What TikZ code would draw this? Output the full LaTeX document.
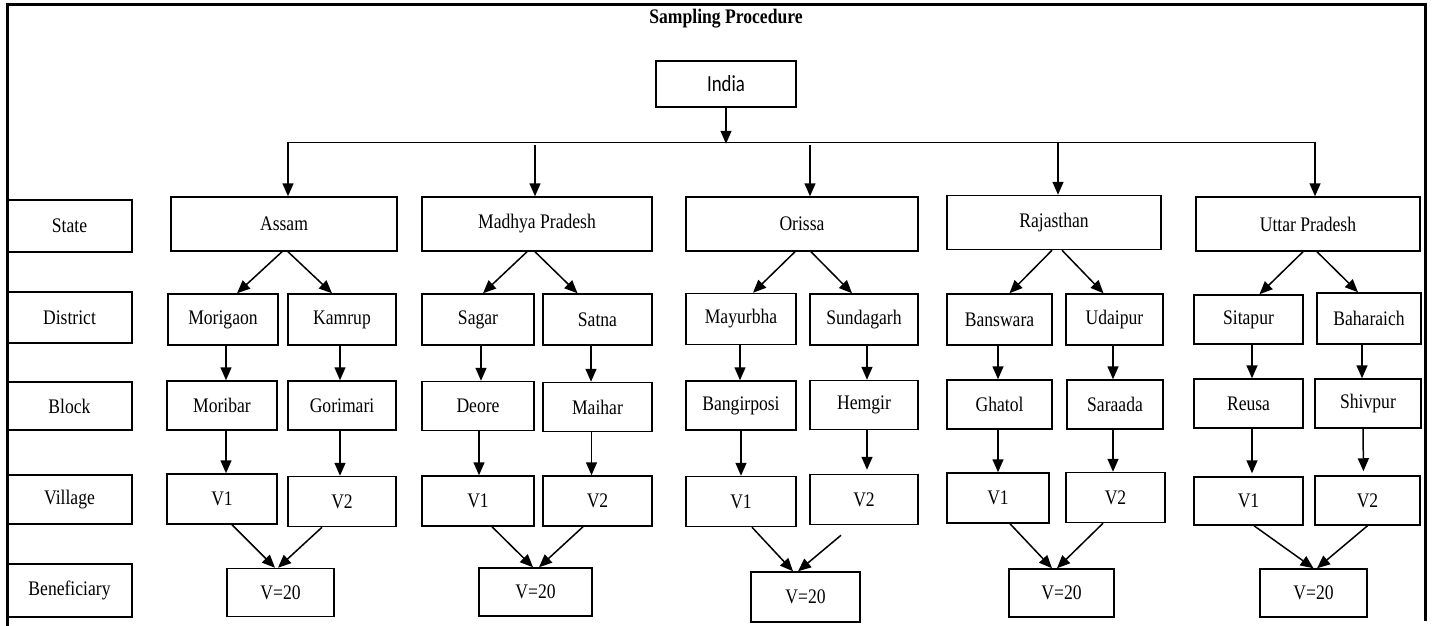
\documentclass[tikz,border=0pt]{standalone}
\usepackage{fontspec}
\setmainfont{Liberation Serif}[FakeStretch=0.85]
\newfontfamily\indiafont{Carlito}[FakeStretch=0.82]
\usepackage{tikz}
\usetikzlibrary{arrows.meta,calc}

\begin{document}
\begin{tikzpicture} %Muestreo
  [
    x=1pt, y=-1pt,
    % Estilos de las cajas y flechas para no repetir codigo
    box/.style={rectangle, draw, line width=1.5pt, inner sep=0pt, font=\fontsize{20.7}{24}\selectfont},
    labelbox/.style={box, minimum width=125pt},
    statebox/.style={box, minimum height=54pt},
    distbox/.style={box, minimum height=51pt},
    blockbox/.style={box, minimum height=49pt},
    villbox/.style={box, minimum height=50pt},
    benbox/.style={box, minimum height=48pt},
    arr/.style={-{Triangle[length=13pt,width=11pt]}, line width=1.5pt}
  ]
  \useasboundingbox (0,0) rectangle (1432,626);
  \draw[line width=3pt] (7,626) -- (7,5) -- (1425,5) -- (1425,621);

  \node[font=\fontsize{20.7}{24}\selectfont\bfseries] (title) at (726,19) {Sampling Procedure};
  \node[box, font=\fontsize{23}{27}\indiafont, minimum width=140pt, minimum height=46pt] (india) at (726,84) {India};

  % Etiquetas de la izquierda
  \node[labelbox, minimum height=52pt] (lstate) at (69.5,226) {State};
  \node[labelbox, minimum height=51pt] (ldistrict) at (69.5,317.5) {District};
  \node[labelbox, minimum height=48pt] (lblock) at (69.5,406) {Block};
  \node[labelbox, minimum height=49pt] (lvillage) at (69.5,499.5) {Village};
  \node[labelbox, minimum height=53pt] (lben) at (69.5,590.5) {Beneficiary};

  % Assam
  \node[statebox, minimum width=226pt] (assam) at (284,224) {Assam};
  \node[distbox, minimum width=110pt] (morigaon) at (223,319.5) {Morigaon};
  \node[distbox, minimum width=108pt] (kamrup) at (342,319.5) {Kamrup};
  \node[blockbox, minimum width=110pt] (moribar) at (222,405.5) {Moribar};
  \node[blockbox, minimum width=108pt] (gorimari) at (342,405.5) {Gorimari};
  \node[villbox, minimum width=110pt] (av1) at (222,499) {V1};
  \node[villbox, minimum width=108pt] (av2) at (342,501.5) {V2};
  \node[benbox, minimum width=107pt] (aben) at (280.5,592.5) {V=20};

  % Madhya Pradesh
  \node[statebox, minimum width=230pt] (mp) at (537,224) {Madhya Pradesh};
  \node[distbox, minimum width=112pt] (sagar) at (478,319.5) {Sagar};
  \node[distbox, minimum width=109pt] (satna) at (597.5,319.5) {Satna};
  \node[blockbox, minimum width=112pt] (deore) at (478,406) {Deore};
  \node[blockbox, minimum width=109pt] (maihar) at (597.5,407) {Maihar};
  \node[villbox, minimum width=112pt] (mv1) at (478,501) {V1};
  \node[villbox, minimum width=109pt] (mv2) at (597.5,501) {V2};
  \node[benbox, minimum width=113pt] (mben) at (535.5,592) {V=20};

  % Orissa
  \node[statebox, minimum width=232pt] (orissa) at (802,224) {Orissa};
  \node[distbox, minimum width=110pt] (mayurbha) at (741,319) {Mayurbha};
  \node[distbox, minimum width=108pt] (sundagarh) at (864,319.5) {Sundagarh};
  \node[blockbox, minimum width=110pt] (bangirposi) at (741,405.5) {Bangirposi};
  \node[blockbox, minimum width=108pt] (hemgir) at (864,405) {Hemgir};
  \node[villbox, minimum width=110pt] (ov1) at (741,501.5) {V1};
  \node[villbox, minimum width=108pt] (ov2) at (864,499.5) {V2};
  \node[benbox, minimum width=109pt, minimum height=50pt] (oben) at (805.5,597) {V=20};

  % Rajasthan
  \node[statebox, minimum width=214pt] (raj) at (1054,222.5) {Rajasthan};
  \node[distbox, minimum width=105pt] (banswara) at (999.5,319.5) {Banswara};
  \node[distbox, minimum width=97pt] (udaipur) at (1114.5,319.5) {Udaipur};
  \node[blockbox, minimum width=105pt] (ghatol) at (999.5,404.5) {Ghatol};
  \node[blockbox, minimum width=96pt] (saraada) at (1115,404.5) {Saraada};
  \node[villbox, minimum width=102pt] (rv1) at (998,498) {V1};
  \node[villbox, minimum width=99pt] (rv2) at (1115.5,497.5) {V2};
  \node[benbox, minimum width=105pt] (rben) at (1061.5,593) {V=20};

  % Uttar Pradesh
  \node[statebox, minimum width=224pt] (up) at (1308,224) {Uttar Pradesh};
  \node[distbox, minimum width=109pt, minimum height=49pt] (sitapur) at (1248.5,319.5) {Sitapur};
  \node[distbox, minimum width=104pt] (baharaich) at (1369,318.5) {Baharaich};
  \node[blockbox, minimum width=109pt] (reusa) at (1248.5,403.5) {Reusa};
  \node[blockbox, minimum width=106pt] (shivpur) at (1368,403.5) {Shivpur};
  \node[villbox, minimum width=109pt, minimum height=48pt] (uv1) at (1248.5,501) {V1};
  \node[villbox, minimum width=105pt, minimum height=49pt] (uv2) at (1367.5,500.5) {V2};
  \node[benbox, minimum width=107pt] (uben) at (1313.5,593) {V=20};

  % India a los estados
  \draw[arr] (india.south) -- ++(0,36);
  \draw[line width=1.1pt] ($(assam.north)+(4,-54)$) -- ($(up.north)+(7,-54)$);
  \draw[arr] ($(assam.north)+(4,-54)$) -- ($(assam.north)+(4,0)$);
  \draw[arr] ($(mp.north)+(-2,-51)$) -- ($(mp.north)+(-2,0)$);
  \draw[arr] ($(orissa.north)+(8,-51)$) -- ($(orissa.north)+(8,0)$);
  \draw[arr] ($(raj.north)+(4,-52)$) -- ($(raj.north)+(4,0)$);
  \draw[arr] ($(up.north)+(7,-54)$) -- ($(up.north)+(7,0)$);

  % Estados a distritos
  \draw[arr] ($(assam.south)+(-2,0)$) -- ($(morigaon.north)+(14,0)$);
  \draw[arr] ($(assam.south)+(4,0)$) -- ($(kamrup.north)+(-10,0)$);
  \draw[arr] ($(mp.south)+(-10,0)$) -- ($(sagar.north)+(5,0)$);
  \draw[arr] ($(mp.south)+(-2,0)$) -- ($(satna.north)+(-20,0)$);
  \draw[arr] ($(orissa.south)+(-7,0)$) -- ($(mayurbha.north)+(12,0)$);
  \draw[arr] ($(orissa.south)+(9,0)$) -- ($(sundagarh.north)+(-12,0)$);
  \draw[arr] ($(raj.south)+(-2,0)$) -- ($(banswara.north)+(10,0)$);
  \draw[arr] ($(raj.south)+(8,0)$) -- ($(udaipur.north)+(-11,0)$);
  \draw[arr] ($(up.south)+(-5,0)$) -- ($(sitapur.north)+(11,0)$);
  \draw[arr] ($(up.south)+(9,0)$) -- ($(baharaich.north)+(-11,0)$);

  % Distritos a bloques
  \draw[arr] ($(morigaon.south)+(3,0)$) -- ($(moribar.north)+(4,0)$);
  \draw[arr] ($(kamrup.south)+(-2,0)$) -- ($(gorimari.north)+(-2,0)$);
  \draw[arr] ($(sagar.south)+(3,0)$) -- ($(deore.north)+(3,0)$);
  \draw[arr] ($(satna.south)+(-6.5,0)$) -- ($(maihar.north)+(-6.5,0)$);
  \draw[arr] ($(mayurbha.south)+(-1,0)$) -- ($(bangirposi.north)+(-1,0)$);
  \draw[arr] ($(sundagarh.south)+(3,0)$) -- ($(hemgir.north)+(3,0)$);
  \draw[arr] ($(banswara.south)+(-1.5,0)$) -- ($(ghatol.north)+(-1.5,0)$);
  \draw[arr] ($(udaipur.south)+(-1.5,0)$) -- ($(saraada.north)+(-2,0)$);
  \draw[arr] ($(sitapur.south)+(3.5,0)$) -- ($(reusa.north)+(3.5,0)$);
  \draw[arr] ($(baharaich.south)+(-7,0)$) -- ($(shivpur.north)+(-6,0)$);

  % Bloques a aldeas
  \draw[arr] ($(moribar.south)+(4,0)$) -- ($(av1.north)+(4,0)$);
  \draw[arr] ($(gorimari.south)+(-2,0)$) -- ($(av2.north)+(-2,0)$);
  \draw[arr] ($(deore.south)+(1,0)$) -- ($(mv1.north)+(1,0)$);
  \draw[arr] ($(maihar.south)+(-6,0)$) -- ($(mv2.north)+(-6,0)$);
  \draw[arr] (bangirposi.south) -- (ov1.north);
  \draw[arr, shorten >=4pt] ($(hemgir.south)+(3,0)$) -- ($(ov2.north)+(3,0)$);
  \draw[arr] ($(ghatol.south)+(-1.5,0)$) -- ($(rv1.north)+(0,0)$);
  \draw[arr] ($(saraada.south)+(-2,0)$) -- ($(rv2.north)+(-2.5,0)$);
  \draw[arr, shorten >=3pt] ($(reusa.south)+(3.5,0)$) -- ($(uv1.north)+(3.5,0)$);
  \draw[arr, shorten >=4pt] ($(shivpur.south)+(-5,0)$) -- ($(uv2.north)+(-4,0)$);

  % Aldeas a beneficiarios
  \draw[arr] ($(av1.south)+(10,0)$) -- ($(aben.north)+(-5.5,0)$);
  \draw[arr] ($(av2.south)+(-20,0)$) -- ($(aben.north)+(-2.5,0)$);
  \draw[arr] ($(mv1.south)+(14,0)$) -- ($(mben.north)+(-2.5,0)$);
  \draw[arr] ($(mv2.south)+(-14.5,0)$) -- ($(mben.north)+(3.5,0)$);
  \draw[arr] ($(ov1.south)+(11,0)$) -- ($(oben.north)+(-12.5,0)$);
  \draw[arr] ($(ov2.south)+(-23,10)$) -- ($(oben.north)+(-7.5,0)$);
  \draw[arr] ($(rv1.south)+(12,0)$) -- ($(rben.north)+(-9.5,0)$);
  \draw[arr] ($(rv2.south)+(-12.5,0)$) -- ($(rben.north)+(-4.5,0)$);
  \draw[arr] ($(uv1.south)+(5.5,0)$) -- (uben.north);
  \draw[arr] (uv2.south) -- ($(uben.north)+(3.5,0)$);

\end{tikzpicture}
\end{document}
